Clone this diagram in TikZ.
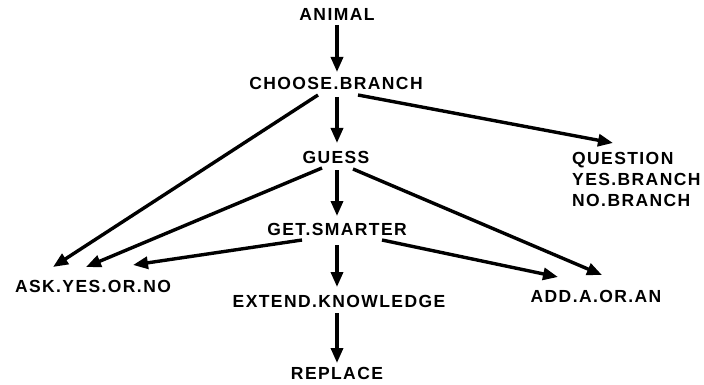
\documentclass[tikz,border=0pt]{standalone}
\usepackage{fontspec}
\setmainfont{Liberation Sans}[LetterSpace=8]
\usetikzlibrary{arrows.meta,calc}
\begin{document}
\begin{tikzpicture}[x=1pt,y=-1pt,
  lbl/.style={inner sep=0pt,font=\fontsize{17.5}{21}\selectfont\bfseries,text height=12.5pt,text depth=0pt},
  arr/.style={line width=3.4pt,-{Triangle[length=15pt,width=12pt]}}]
\useasboundingbox (0,0) rectangle (704,385);
\node[lbl] (animal) at (337,14) {ANIMAL};
\node[lbl] (choose) at (336,83) {CHOOSE.BRANCH};
\node[lbl] (guess) at (336,157) {GUESS};
\node[lbl] (get) at (337,229) {GET.SMARTER};
\node[lbl] (extend) at (339,301) {EXTEND.KNOWLEDGE};
\node[lbl] (replace) at (337,373) {REPLACE};
\node[lbl] (ask) at (93,286) {ASK.YES.OR.NO};
\node[lbl] (add) at (596,296) {ADD.A.OR.AN};
\node[inner sep=0pt,font=\fontsize{17.5}{21}\selectfont\bfseries,align=left,anchor=north west] (question) at (572,152) {QUESTION\\YES.BRANCH\\NO.BRANCH};
% vertical chain
\draw[arr] ($(animal)+(0,11)$) -- ($(choose)+(1,-11)$);
\draw[arr] ($(choose)+(1,14)$) -- ($(guess)+(1,-14)$);
\draw[arr] ($(guess)+(1,13)$) -- ($(get)+(0,-13)$);
\draw[arr] ($(get)+(0,16)$) -- ($(extend)+(-2,-14)$);
\draw[arr] ($(extend)+(-2,12)$) -- ($(replace)+(0,-10)$);
% to ASK.YES.OR.NO
\draw[arr] ($(choose)+(-18,12)$) -- ($(ask)+(-40,-19)$);
\draw[arr] ($(guess)+(-14,11)$) -- ($(ask)+(-7,-19)$);
\draw[arr] ($(get)+(-35,11)$) -- ($(ask)+(40,-21)$);
% right side
\draw[arr] ($(choose)+(22,12)$) -- ($(question.north west)+(41,-9)$);
\draw[arr] ($(guess)+(17,12)$) -- ($(add)+(6,-21)$);
\draw[arr] ($(get)+(45,11)$) -- ($(add)+(-38,-19)$);
\end{tikzpicture}
\end{document}
